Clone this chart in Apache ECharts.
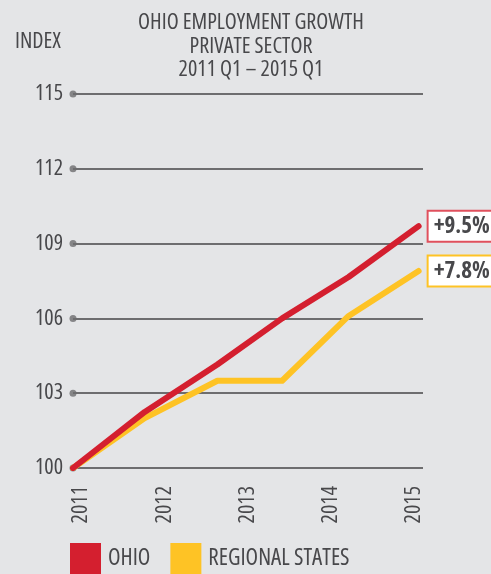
<!DOCTYPE html>
<html>
<head>
<meta charset="utf-8">
<script src="https://cdn.jsdelivr.net/npm/echarts@6/dist/echarts.min.js"></script>
<style>
  html, body { margin: 0; padding: 0; background: #e4e5e7; }
  #chart { width: 491px; height: 574px; }
</style>
</head>
<body>
<div id="chart"></div>
<script>
// data (x in fractional years)
const years = [2011, 2012, 2013, 2014, 2015];
const yTicks = [100, 103, 106, 109, 112, 115];
const pointYears = [2011, 2011.82, 2012.65, 2013.39, 2014.15, 2014.95];
const ohio = [100, 102.25, 104.15, 106.0, 107.66, 109.7];
const regional = [100, 102.0, 103.5, 103.5, 106.1, 107.9];
const growthLabels = { 'OHIO': '+9.5%', 'REGIONAL STATES': '+7.8%' };

// 'condensed' goes into the canvas font string as font-stretch
const font = '"Open Sans"';
const stretch = 'condensed';
const textColor = '#48484b';
const red = '#d41f2f';
const yellow = '#fec325';

const pairs = (xs, ys) => xs.map((x, i) => [x, ys[i]]);

const endLabel = (border) => ({
    show: true,
    formatter: (p) => growthLabels[p.seriesName],
    distance: 10,
    backgroundColor: '#ffffff',
    borderColor: border,
    borderWidth: 2,
    padding: [4, 5, 2, 5],
    fontFamily: font,
    fontStyle: stretch,
    fontSize: 23,
    fontWeight: 'bold',
    color: textColor
});

const chart = echarts.init(document.getElementById('chart'));

chart.setOption({
    backgroundColor: '#e4e5e7',
    animation: false,
    title: {
        text: 'OHIO EMPLOYMENT GROWTH\nPRIVATE SECTOR\n2011 Q1 – 2015 Q1',
        left: 246,
        top: 6,
        textAlign: 'center',
        textStyle: {
            fontFamily: font,
            fontStyle: stretch,
            fontSize: 22,
            fontWeight: 500,
            color: textColor,
            lineHeight: 23.5
        }
    },
    graphic: [
        {
            type: 'text',
            left: 15,
            top: 31,
            style: {
                text: 'INDEX',
                font: stretch + ' 500 22px ' + font,
                fill: textColor
            }
        }
    ],
    legend: {
        left: 70,
        top: 543,
        padding: 0,
        itemWidth: 31,
        itemHeight: 31,
        itemGap: 20,
        icon: 'rect',
        textStyle: { fontFamily: font, fontStyle: stretch, fontWeight: 500, fontSize: 23, color: textColor, padding: [0, 0, 0, 2] },
        data: ['OHIO', 'REGIONAL STATES']
    },
    grid: { left: 73, right: 68, top: 94, bottom: 106 },
    xAxis: [
        {
            type: 'value',
            min: 2011,
            max: 2015,
            interval: 1,
            axisLine: { show: false },
            axisTick: { show: false },
            axisLabel: { show: false },
            splitLine: { show: false }
        },
        {
            // label-only axis, the picture's year labels sit slightly inside the gridline span
            type: 'value',
            min: 2010.904,
            max: 2015.108,
            position: 'bottom',
            axisLine: { show: false },
            axisTick: { show: false },
            splitLine: { show: false },
            axisLabel: {
                customValues: years,
                rotate: 90,
                margin: 18,
                fontFamily: font,
                fontStyle: stretch,
                fontWeight: 500,
                fontSize: 22,
                color: textColor,
                formatter: (v) => String(v)
            }
        }
    ],
    yAxis: {
        type: 'value',
        min: 100,
        max: 115,
        interval: 3,
        axisLine: { show: false },
        axisTick: { show: false },
        axisLabel: {
            margin: 10,
            fontFamily: font,
            fontStyle: stretch,
            fontWeight: 500,
            fontSize: 22,
            color: textColor
        },
        splitLine: { lineStyle: { color: '#6d6d6f', width: 2 } }
    },
    series: [
        {
            name: 'dots',
            type: 'scatter',
            symbolSize: 7,
            silent: true,
            itemStyle: { color: '#6d6d6f' },
            data: yTicks.map((t) => [years[0], t]),
            z: 1
        },
        {
            name: 'REGIONAL STATES',
            type: 'line',
            data: pairs(pointYears, regional),
            showSymbol: false,
            color: yellow,
            lineStyle: { width: 6, cap: 'round', join: 'round' },
            endLabel: endLabel(yellow),
            z: 2
        },
        {
            name: 'OHIO',
            type: 'line',
            data: pairs(pointYears, ohio),
            showSymbol: false,
            color: red,
            lineStyle: { width: 6, cap: 'round', join: 'round' },
            endLabel: endLabel('#e0505d'),
            z: 3
        }
    ]
});
</script>
</body>
</html>
